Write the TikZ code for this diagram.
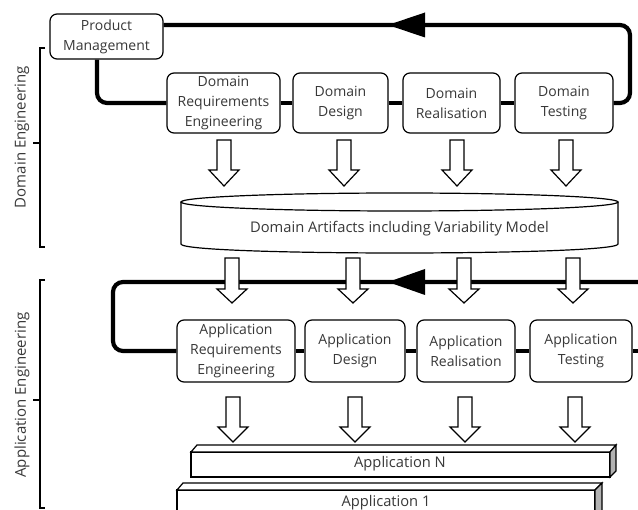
\documentclass[tikz,border=0pt]{standalone}
\usepackage{fontspec}
\setmainfont{Open Sans}
\begin{document}
\begin{tikzpicture}[x=1pt,y=-1pt,
  every node/.style={font=\fontsize{14}{20}\selectfont, text=black!78},
  box/.style={draw, line width=1.2pt, rounded corners=7pt, align=center, inner sep=0pt, fill=white, text width=#1, minimum width=#1, minimum height=60pt},
  loopline/.style={line width=4.2pt, rounded corners=10pt},
  hollow/.style={draw, line width=1.2pt, fill=white, line join=miter},
  brace/.style={line width=1.1pt},
  big/.style={font=\fontsize{14.7}{18}\selectfont},
  side/.style={rotate=90, font=\fontsize{15}{18}\selectfont}
]
\useasboundingbox (0,0) rectangle (638,510);

% ---- Domain engineering boxes
\node[box=113pt, minimum height=45pt] (PM) at (106.5,36.5) {Product\\Management};
\node[box=113pt] (DRE) at (223.5,103) {Domain\\Requirements\\Engineering};
\node[box=95pt] (DD) at (340.5,103) {Domain\\Design};
\node[box=97pt] (DR) at (451.5,103) {Domain\\Realisation};
\node[box=98pt] (DT) at (564,103) {Domain\\Testing};

% ---- Application engineering boxes
\node[box=118pt, minimum height=62pt] (ARE) at (236,351) {Application\\Requirements\\Engineering};
\node[box=100pt, minimum height=62pt] (AD) at (355,351) {Application\\Design};
\node[box=98pt, minimum height=62pt] (AR) at (466,351) {Application\\Realisation};
\node[box=102pt, minimum height=62pt] (AT) at (581,351) {Application\\Testing};

% ---- domain loop
\coordinate (dtop) at (630,25);
\coordinate (dright) at (630,103);
\coordinate (pmdown) at (97,103);
\draw[loopline] (PM.east |- dtop) -- (dtop) -- (dright) -- (DT.east);
\draw[loopline] (PM.south -| pmdown) -- (pmdown) -- (DRE.west);
\draw[loopline] (DRE.east) -- (DD.west);
\draw[loopline] (DD.east) -- (DR.west);
\draw[loopline] (DR.east) -- (DT.west);
\fill (388,25) -- (425,12.5) -- (425,37.5) -- cycle;

% ---- application loop
\coordinate (aright) at (638,282);
\coordinate (aleft) at (113,282);
\coordinate (alow) at (113,351);
\coordinate (aend) at (638,351);
\draw[loopline] (aright) -- (aleft) -- (alow) -- (ARE.west);
\draw[loopline] (ARE.east) -- (AD.west);
\draw[loopline] (AD.east) -- (AR.west);
\draw[loopline] (AR.east) -- (AT.west);
\draw[loopline] (AT.east) -- (aend);
\fill (388,282) -- (425,269) -- (425,295) -- cycle;

% ---- cylinder
\draw[line width=1.2pt, fill=white] (181,202) -- (181,244) .. controls (181,256) and (618,256) .. (618,244) -- (618,202);
\draw[line width=1.2pt, fill=white] (399.5,202) ellipse [x radius=218.5, y radius=9];
\node[big] (artifacts) at (399.5,229) {Domain Artifacts including Variability Model};

% ---- hollow arrows
\foreach \x in {224,344,457,566}{
  \draw[hollow] (\x-7,140) -- (\x+7,140) -- (\x+7,170) -- (\x+15,170) -- (\x,186) -- (\x-15,170) -- (\x-7,170) -- cycle;}
\foreach \x in {232,353,464,573}{
  \draw[hollow] (\x-7,258) -- (\x+7,258) -- (\x+7,289) -- (\x+15,289) -- (\x,303) -- (\x-15,289) -- (\x-7,289) -- cycle;}
\foreach \x in {233,355,465,575}{
  \draw[hollow] (\x-7,397) -- (\x+7,397) -- (\x+7,427) -- (\x+15,427) -- (\x,442) -- (\x-15,427) -- (\x-7,427) -- cycle;}

% ---- application slabs
\draw[line width=1.2pt, fill=white] (177,490) rectangle (595,515);
\draw[line width=1.2pt, fill=white] (177,490) -- (183,483) -- (602,483) -- (595,490) -- cycle;
\draw[line width=1.2pt, fill=black!30] (595,490) -- (602,483) -- (602,515) -- (595,515) -- cycle;
\node[big] (app1) at (386,503) {Application 1};

\draw[line width=1.2pt, fill=white] (191,452) rectangle (610,477);
\draw[line width=1.2pt, fill=white] (191,452) -- (197,445) -- (616,445) -- (610,452) -- cycle;
\draw[line width=1.2pt, fill=black!30] (610,452) -- (616,445) -- (616,471) -- (610,477) -- cycle;
\node[big] (appN) at (400,464) {Application N};

% ---- brackets
\draw[brace] (45,48) -- (40,48) -- (40,247) -- (45,247);
\draw[brace] (40,143) -- (33,143);
\node[side] (DE) at (22,137) {Domain Engineering};
\draw[brace] (45,280) -- (40,280) -- (40,508) -- (45,508);
\draw[brace] (40,400) -- (33,400);
\node[side] (AE) at (22,395) {Application Engineering};
\end{tikzpicture}
\end{document}
